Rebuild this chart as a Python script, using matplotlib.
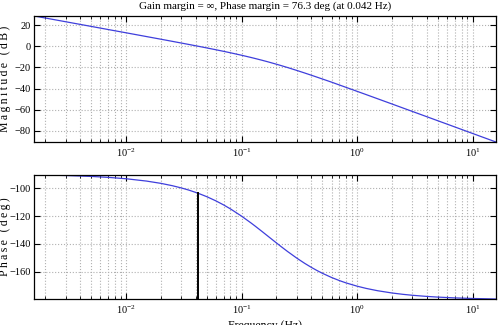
import matplotlib
matplotlib.use("Agg")
import matplotlib.pyplot as plt

plt.rcParams['font.family'] = ['Liberation Serif', 'DejaVu Serif']

# frequency points (Hz)
freq = [0.00159, 0.002, 0.003, 0.005, 0.007, 0.01, 0.015, 0.02, 0.025, 0.03,
        0.035, 0.042, 0.05, 0.06, 0.07, 0.08, 0.1, 0.12, 0.13, 0.15, 0.17,
        0.2, 0.22, 0.25, 0.3, 0.35, 0.4, 0.45, 0.5, 0.6, 0.7, 0.8, 1.0, 1.2,
        1.5, 2.0, 2.5, 3.0, 4.0, 5.0, 7.0, 10.0, 15.9]
mag_db = [28.68, 26.70, 23.17, 18.74, 15.80, 12.71, 9.16, 6.64, 4.67, 3.04,
          1.66, 0.00, -1.61, -3.34, -4.85, -6.19, -8.54, -10.58, -11.52,
          -13.25, -14.84, -17.01, -18.33, -20.16, -22.88, -25.26, -27.38,
          -29.28, -31.00, -33.97, -36.62, -38.88, -42.69, -45.81, -49.66,
          -54.63, -58.50, -61.66, -66.65, -70.52, -76.36, -82.56, -90.61]
phase_deg = [-90.53, -90.67, -91.00, -91.66, -92.33, -93.32, -94.98, -96.62,
             -98.26, -99.88, -101.48, -103.70, -106.18, -109.20, -112.11,
             -114.91, -120.13, -124.86, -127.03, -131.04, -134.62, -139.26,
             -141.93, -145.43, -150.13, -153.79, -156.70, -159.05, -160.99,
             -163.98, -166.17, -167.85, -170.22, -171.83, -173.45, -175.08,
             -176.06, -176.71, -177.53, -178.03, -178.59, -179.01, -179.38]

pm_freq = 0.042
pm_phase = -103.7
title = "Gain margin = \u221e, Phase margin = 76.3 deg (at 0.042 Hz)"

line_color = '#3f3fdc'
sp = '\u2009'

fig = plt.figure(figsize=(4.98, 3.25), dpi=100)
ax1 = fig.add_axes([0.068, 0.563, 0.928, 0.388])
ax2 = fig.add_axes([0.068, 0.080, 0.928, 0.382])

ax1.semilogx(freq, mag_db, color=line_color, lw=0.9)
ax2.semilogx(freq, phase_deg, color=line_color, lw=0.9)
ax2.plot([pm_freq, pm_freq], [min(phase_deg), pm_phase], color='black', lw=1.4)

for ax in (ax1, ax2):
    ax.set_xlim(freq[0], freq[-1])
    ax.grid(True, which='major', axis='both', linestyle=':', color='#b0b0b0', lw=0.8)
    ax.grid(True, which='minor', axis='x', linestyle=':', color='#b0b0b0', lw=0.8)
    ax.tick_params(which='both', direction='in', top=True, right=True, labelsize=7.5)
    ax.tick_params(axis='y', pad=2)
    ax.tick_params(which='major', length=4)
    ax.tick_params(which='minor', length=2)
    for s in ax.spines.values():
        s.set_linewidth(0.9)

ax1.set_ylim(min(mag_db), max(mag_db))
ax1.set_yticks([20, 0, -20, -40, -60, -80])
ax1.set_yticklabels(['20', '0', '\u221220', '\u221240', '\u221260', '\u221280'])
ax2.set_ylim(min(phase_deg), max(phase_deg))
ax2.set_yticks([-100, -120, -140, -160])
ax2.set_yticklabels(['\u2212100', '\u2212120', '\u2212140', '\u2212160'])

ax1.set_ylabel(sp.join('Magnitude (dB)'), fontsize=8.5)
ax1.yaxis.set_label_coords(-0.050, 0.5)
ax2.set_ylabel(sp.join('Phase (deg)'), fontsize=8.5)
ax2.yaxis.set_label_coords(-0.050, 0.5)
ax2.set_xlabel('Frequency (Hz)', fontsize=8.5, labelpad=3)
ax1.set_title(title, fontsize=8, pad=5)

fig.savefig('out.png', dpi=100)
